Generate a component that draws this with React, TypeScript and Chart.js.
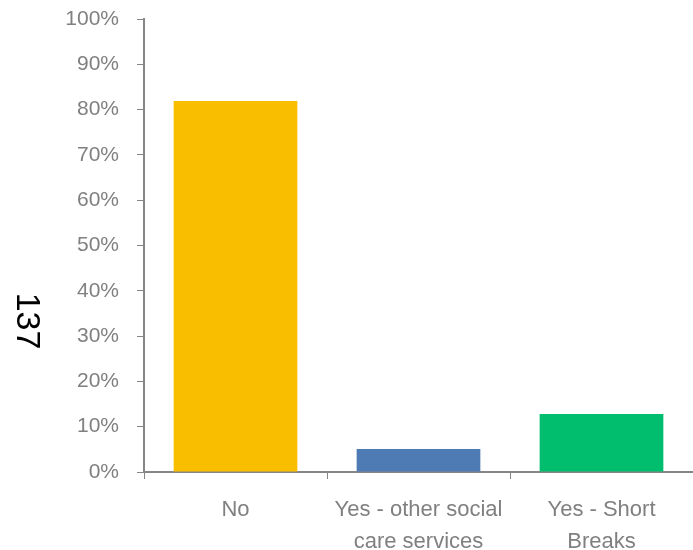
import React, { useEffect, useRef } from "react";
import { Chart, registerables } from "chart.js";

Chart.register(...registerables);

const categories: (string | string[])[] = ["No", ["Yes - other social", "care services"], ["Yes - Short", "Breaks"]];
const values = [81.9, 5.1, 12.8];
const barColors = ["#F9BE00", "#4F7BB5", "#00BE6E"];
const sideTitle = "137";

const sideTitlePlugin = {
  id: "sideTitle",
  afterDraw(chart: any) {
    const { ctx } = chart;
    ctx.save();
    ctx.translate(26, 321);
    ctx.rotate(Math.PI / 2);
    ctx.font = "34px 'Liberation Sans', Arial, sans-serif";
    ctx.fillStyle = "#000000";
    ctx.textAlign = "center";
    ctx.textBaseline = "middle";
    ctx.fillText(sideTitle, 0, 0);
    ctx.restore();
  },
};

export default function App() {
  const ref = useRef<HTMLCanvasElement>(null);
  useEffect(() => {
    document.body.style.margin = "0";
    const chart = new Chart(ref.current!, {
      type: "bar",
      data: {
        labels: categories,
        datasets: [
          {
            data: values,
            backgroundColor: barColors,
            categoryPercentage: 0.676,
            barPercentage: 1,
          },
        ],
      },
      options: {
        animation: false,
        responsive: false,
        layout: { padding: { top: 19, right: 0, left: 0, bottom: 0 } },
        plugins: { legend: { display: false }, tooltip: { enabled: false } },
        scales: {
          x: {
            grid: { display: true, drawOnChartArea: false, drawTicks: true, tickLength: 7, color: "#868686", offset: true },
            border: { color: "#868686", width: 2 },
            ticks: {
              color: "#808080",
              font: { family: "'Liberation Sans', Arial, sans-serif", size: 22, lineHeight: 1.45 },
              padding: 15,
              maxRotation: 0,
              autoSkip: false,
            },
            afterFit(scale: any) {
              scale.height = 78;
              scale.paddingLeft = 0;
              scale.paddingRight = 0;
            },
          },
          y: {
            min: 0,
            max: 100,
            grid: { display: true, drawOnChartArea: false, drawTicks: true, tickLength: 7, color: "#868686" },
            border: { color: "#868686", width: 2 },
            ticks: {
              stepSize: 10,
              color: "#808080",
              font: { family: "'Liberation Sans', Arial, sans-serif", size: 21 },
              padding: 18,
              callback: (v: any) => v + "%",
            },
            afterFit(scale: any) {
              scale.width = 144;
              scale.paddingTop = 0;
              scale.paddingBottom = 0;
            },
          },
        },
      },
      plugins: [sideTitlePlugin],
    });
    return () => chart.destroy();
  }, []);
  return (
    <div style={{ position: "absolute", left: 0, top: 0, width: 693, height: 550 }}>
      <canvas ref={ref} width={693} height={550} />
    </div>
  );
}
